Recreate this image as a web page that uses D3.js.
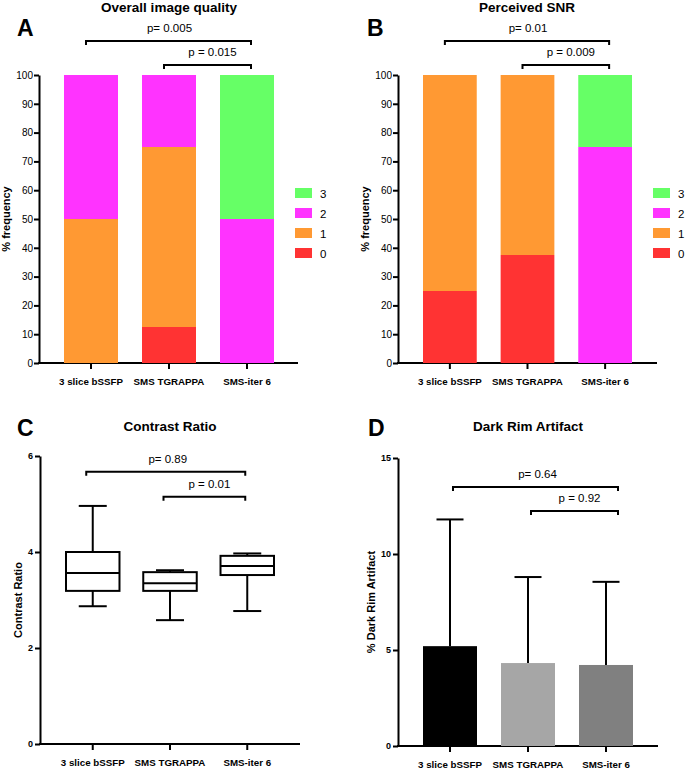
<!DOCTYPE html>
<html><head><meta charset="utf-8">
<script src="https://cdn.jsdelivr.net/npm/d3@7"></script>
<style>
body{margin:0;background:#fff}
svg text{font-family:"Liberation Sans",Arial,Helvetica,sans-serif;fill:#000}
</style>
</head><body><svg id="c" width="685" height="770"></svg>
<script>
// ---------- DATA ----------
const groups = ["3 slice bSSFP", "SMS TGRAPPA", "SMS-iter 6"];
const scoreLevels = ["0", "1", "2", "3"];
const scoreColors = ["#ff3333", "#ff9933", "#ff33ff", "#66ff66"];
const freqTicks = [0, 10, 20, 30, 40, 50, 60, 70, 80, 90, 100];

// A: Overall image quality (% frequency of each score)
const iqScore0 = [0, 12.5, 0];
const iqScore1 = [50, 62.5, 0];
const iqScore2 = [50, 25, 50];
const iqScore3 = [0, 0, 50];
const iqPLabels = ["p= 0.005", "p = 0.015"];

// B: Perceived SNR (% frequency of each score)
const snrScore0 = [25, 37.5, 0];
const snrScore1 = [75, 62.5, 0];
const snrScore2 = [0, 0, 75];
const snrScore3 = [0, 0, 25];
const snrPLabels = ["p= 0.01", "p = 0.009"];

// C: Contrast ratio (box plot)
const crMin = [2.87, 2.58, 2.77];
const crQ1 = [3.19, 3.19, 3.52];
const crMedian = [3.56, 3.35, 3.71];
const crQ3 = [4.0, 3.58, 3.92];
const crMax = [4.96, 3.62, 3.97];
const crTicks = [0, 2, 4, 6];
const crPLabels = ["p= 0.89", "p = 0.01"];

// D: Dark rim artifact (mean + SD)
const drMean = [5.2, 4.32, 4.22];
const drUpper = [11.8, 8.8, 8.55];
const drColors = ["#000000", "#a6a6a6", "#808080"];
const drTicks = [0, 5, 10, 15];
const drPLabels = ["p= 0.64", "p = 0.92"];

// comparison pairs (group indices)
const pairs = [[0, 2], [1, 2]];

// ---------- DRAW ----------
const svg = d3.select("#c");

function makePanel(p) {
  const g = svg.append("g");
  const y = d3.scaleLinear().domain([0, p.yMax]).range([p.y0, p.yTop]);
  const x = d3.scaleBand().domain(groups).range(p.barRange).paddingInner(0.3077).paddingOuter(0);

  // letter + title
  g.append("text").attr("x", p.letterX).attr("y", p.letterY)
    .style("font-size", "23px").style("font-weight", "bold").text(p.letter);
  g.append("text").attr("x", p.titleX).attr("y", p.titleY).attr("text-anchor", "middle")
    .style("font-size", "13.5px").style("font-weight", "bold").text(p.title);

  // y axis
  const ya = g.append("g").attr("transform", `translate(${p.ax},0)`)
    .call(d3.axisLeft(y).tickValues(p.ticks).tickFormat(d3.format("d"))
      .tickSize(5).tickSizeOuter(0).tickPadding(p.tickPad));
  ya.select(".domain").attr("stroke", "#000").attr("stroke-width", 2);
  ya.selectAll(".tick line").attr("stroke", "#000").attr("stroke-width", 2);
  ya.selectAll(".tick text").attr("font-family", null)
    .style("font-size", p.tickFont).style("font-weight", p.tickWeight);

  // x axis
  g.append("line").attr("x1", p.ax - 1).attr("x2", p.right).attr("y1", p.y0).attr("y2", p.y0)
    .attr("stroke", "#000").attr("stroke-width", 2);
  const xa = g.append("g").attr("transform", `translate(0,${p.y0})`)
    .call(d3.axisBottom(x).tickSize(6).tickSizeOuter(0).tickPadding(9));
  xa.select(".domain").remove();
  xa.selectAll(".tick line").attr("stroke", "#000").attr("stroke-width", 2);
  xa.selectAll(".tick text").attr("font-family", null)
    .style("font-size", "9.75px").style("font-weight", "bold");

  // y label
  g.append("text").attr("transform", `translate(${p.ylabX},${(p.y0 + p.yTop) / 2}) rotate(-90)`)
    .attr("text-anchor", "middle").style("font-size", "11px").style("font-weight", "bold")
    .text(p.ylabel);

  // brackets
  p.pLabels.forEach((lab, k) => {
    const [i, j] = pairs[k];
    const xl = x(groups[i]) + x.bandwidth() / 2 + p.bdxL;
    const xr = x(groups[j]) + x.bandwidth() / 2 + p.bdxR;
    const yy = y(p.bLevels[k]);
    g.append("path").attr("d", `M${xl},${yy + 4}V${yy}H${xr}V${yy + 4}`)
      .attr("fill", "none").attr("stroke", "#000").attr("stroke-width", 2);
    g.append("text").attr("x", (xl + xr) / 2 + p.tdx[k]).attr("y", yy - 9)
      .attr("text-anchor", "middle").style("font-size", "11.5px").text(lab);
  });
  return { g, x, y };
}

function stacked(p, series) {
  const P = makePanel(p);
  const rows = groups.map((gname, i) => {
    const r = { group: gname };
    scoreLevels.forEach((k, s) => r[k] = series[s][i]);
    return r;
  });
  const st = d3.stack().keys(scoreLevels)(rows);
  st.forEach((layer, s) => {
    P.g.selectAll(null).data(layer.filter(d => d[1] - d[0] > 0)).join("rect")
      .attr("x", d => P.x(d.data.group)).attr("width", P.x.bandwidth())
      .attr("y", d => P.y(d[1])).attr("height", d => P.y(d[0]) - P.y(d[1]))
      .attr("fill", scoreColors[s]);
  });
  // legend
  const lg = P.g.append("g").attr("transform", `translate(${p.legX},188)`);
  scoreLevels.slice().reverse().forEach((k, r) => {
    const s = scoreLevels.indexOf(k);
    lg.append("rect").attr("x", 0).attr("y", r * 20).attr("width", 17).attr("height", 10)
      .attr("fill", scoreColors[s]);
    lg.append("text").attr("x", 25).attr("y", r * 20 + 9.5).style("font-size", "11.5px").text(k);
  });
}

const freqCommon = {
  yMax: 100, y0: 363, yTop: 75, ticks: freqTicks, tickPad: 1, tickFont: "10px", tickWeight: "normal",
  ylabel: "% frequency", titleY: 11.5, letterY: 36, bLevels: [111.8, 103.5], bdxL: -5, bdxR: 4, tdx: [1, 5]
};

stacked(Object.assign({}, freqCommon, {
  ax: 39, right: 298, barRange: [64, 274], letter: "A", letterX: 17, title: "Overall image quality",
  titleX: 169, ylabX: 10, pLabels: iqPLabels, legX: 295
}), [iqScore0, iqScore1, iqScore2, iqScore3]);

stacked(Object.assign({}, freqCommon, {
  ax: 398, right: 657, barRange: [423, 632], letter: "B", letterX: 367, title: "Perceived SNR",
  titleX: 527, ylabX: 369, pLabels: snrPLabels, legX: 653
}), [snrScore0, snrScore1, snrScore2, snrScore3]);

// C: box plot
(function () {
  const P = makePanel({
    yMax: 6, y0: 744, yTop: 456, ticks: crTicks, tickPad: 2, tickFont: "9px", tickWeight: "bold",
    ax: 40, right: 300, barRange: [66, 274], letter: "C", letterX: 17, letterY: 436,
    title: "Contrast Ratio", titleX: 170, titleY: 431, ylabel: "Contrast Ratio", ylabX: 22,
    pLabels: crPLabels, bLevels: [5.67, 5.15], bdxL: -6.5, bdxR: -2, tdx: [2, 5]
  });
  groups.forEach((gname, i) => {
    const cx = P.x(gname) + P.x.bandwidth() / 2;
    const line = (x1, y1, x2, y2) => P.g.append("line").attr("x1", x1).attr("y1", y1)
      .attr("x2", x2).attr("y2", y2).attr("stroke", "#000").attr("stroke-width", 2);
    line(cx, P.y(crMax[i]), cx, P.y(crQ3[i]));
    line(cx, P.y(crQ1[i]), cx, P.y(crMin[i]));
    line(cx - 14, P.y(crMax[i]), cx + 14, P.y(crMax[i]));
    line(cx - 14, P.y(crMin[i]), cx + 14, P.y(crMin[i]));
    P.g.append("rect").attr("x", P.x(gname)).attr("width", P.x.bandwidth())
      .attr("y", P.y(crQ3[i])).attr("height", P.y(crQ1[i]) - P.y(crQ3[i]))
      .attr("fill", "#fff").attr("stroke", "#000").attr("stroke-width", 2);
    line(P.x(gname), P.y(crMedian[i]), P.x(gname) + P.x.bandwidth(), P.y(crMedian[i]));
  });
})();

// D: bars with SD
(function () {
  const P = makePanel({
    yMax: 15, y0: 746, yTop: 458, ticks: drTicks, tickPad: 2, tickFont: "9px", tickWeight: "bold",
    ax: 398, right: 658, barRange: [423, 633], letter: "D", letterX: 368, letterY: 436,
    title: "Dark Rim Artifact", titleX: 528, titleY: 431, ylabel: "% Dark Rim Artifact", ylabX: 375,
    pLabels: drPLabels, bLevels: [13.49, 12.24], bdxL: 3, bdxR: 12, tdx: [2, 5]
  });
  groups.forEach((gname, i) => {
    const cx = P.x(gname) + P.x.bandwidth() / 2;
    P.g.append("line").attr("x1", cx).attr("x2", cx).attr("y1", P.y(drMean[i])).attr("y2", P.y(drUpper[i]))
      .attr("stroke", "#000").attr("stroke-width", 2);
    P.g.append("line").attr("x1", cx - 13.5).attr("x2", cx + 13.5).attr("y1", P.y(drUpper[i])).attr("y2", P.y(drUpper[i]))
      .attr("stroke", "#000").attr("stroke-width", 2);
    P.g.append("rect").attr("x", P.x(gname)).attr("width", P.x.bandwidth())
      .attr("y", P.y(drMean[i])).attr("height", P.y(0) - P.y(drMean[i]))
      .attr("fill", drColors[i]);
  });
})();
</script>
</body></html>
